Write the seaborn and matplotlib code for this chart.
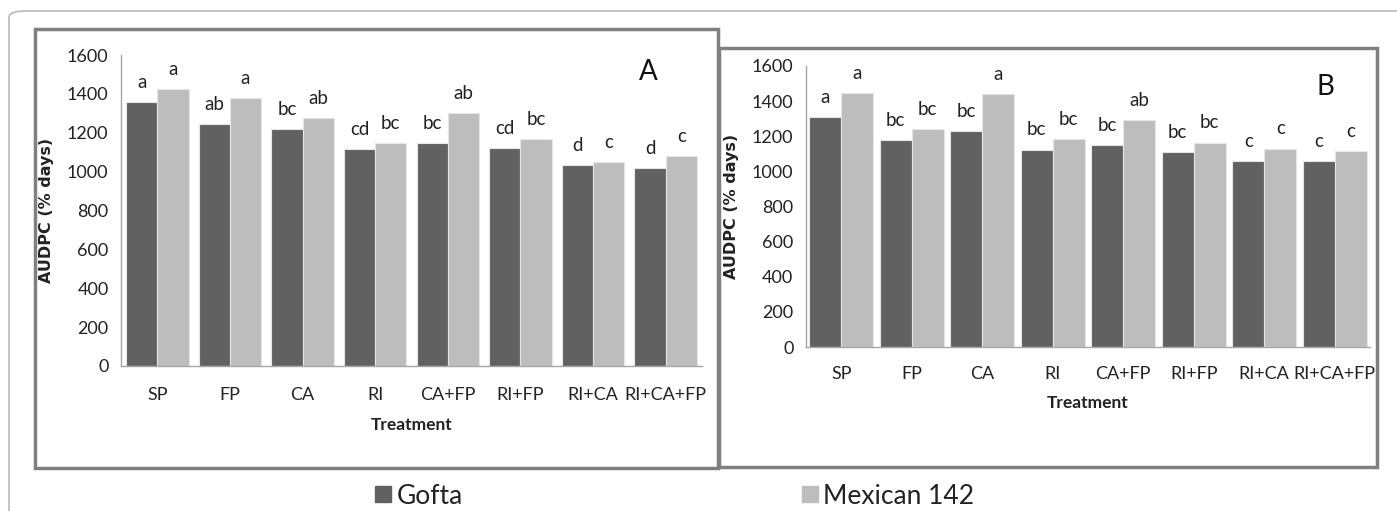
import pandas as pd
import matplotlib.pyplot as plt
import seaborn as sns
from matplotlib.patches import Rectangle, FancyBboxPatch
from matplotlib.lines import Line2D

sns.set_style("white")
plt.rcParams["font.family"] = ["Lato", "DejaVu Sans"]

# ---------------- data ----------------
treatments = ["SP", "FP", "CA", "RI", "CA+FP", "RI+FP", "RI+CA", "RI+CA+FP"]
varieties = ["Gofta", "Mexican 142"]

a_gofta = [1357, 1243, 1221, 1115, 1149, 1120, 1032, 1017]
a_mexican = [1425, 1377, 1274, 1149, 1302, 1166, 1048, 1081]
a_gofta_letters = ["a", "ab", "bc", "cd", "bc", "cd", "d", "d"]
a_mexican_letters = ["a", "a", "ab", "bc", "ab", "bc", "c", "c"]

b_gofta = [1309, 1177, 1230, 1124, 1152, 1110, 1057, 1057]
b_mexican = [1448, 1242, 1440, 1185, 1291, 1164, 1130, 1118]
b_gofta_letters = ["a", "bc", "bc", "bc", "bc", "bc", "c", "c"]
b_mexican_letters = ["a", "bc", "a", "bc", "ab", "bc", "c", "c"]

dark = "#616161"
light = "#bdbdbd"
axis_grey = "#a6a6a6"

W, H = 1397, 511
fig = plt.figure(figsize=(W / 100, H / 100), dpi=100)


def fx(px):
    return px / W


def fy(py):
    return 1 - py / H


def panel(left, right, top0, base, gofta, mexican, g_let, m_let, tag, width, tag_pos,
          label_y, xlabel_y):
    ax = fig.add_axes([fx(left), fy(base), fx(right - left), (base - top0) / H])
    df = pd.DataFrame({
        "Treatment": treatments * 2,
        "AUDPC": gofta + mexican,
        "Variety": [varieties[0]] * len(treatments) + [varieties[1]] * len(treatments),
    })
    sns.barplot(data=df, x="Treatment", y="AUDPC", hue="Variety",
                palette=[dark, light], width=width, ax=ax,
                edgecolor="#e6e6e6", linewidth=0.8, legend=False, errorbar=None)
    ax.set_xlim(-0.5, len(treatments) - 0.5)
    ax.set_ylim(0, 1600)
    ax.set_yticks(range(0, 1601, 200))
    ax.tick_params(axis="y", length=4, color=axis_grey, labelsize=13, pad=5,
                   labelcolor="#222222")
    ax.set_xticks([i - 0.5 for i in range(len(treatments) + 1)], minor=True)
    ax.tick_params(axis="x", which="minor", length=6, color=axis_grey)
    ax.tick_params(axis="x", which="major", length=0, labelsize=13, pad=label_y,
                   labelcolor="#222222")
    for s in ["top", "right"]:
        ax.spines[s].set_visible(False)
    for s in ["left", "bottom"]:
        ax.spines[s].set_color(axis_grey)
        ax.spines[s].set_linewidth(1)
    ax.set_xlabel("Treatment", fontsize=12.5, fontweight="bold", labelpad=xlabel_y,
                  color="#222222")
    ax.set_ylabel("AUDPC (% days)", fontsize=11.5, fontweight="bold",
                  family="DejaVu Sans", labelpad=9, color="#222222")

    for cont, lets in zip(ax.containers, [g_let, m_let]):
        for bar, t in zip(cont, lets):
            ax.annotate(t, (bar.get_x() + bar.get_width() / 2, bar.get_height()),
                        xytext=(0, 8), textcoords="offset points",
                        ha="center", va="bottom", fontsize=13.5, color="#222222")
    fig.text(fx(tag_pos[0]), fy(tag_pos[1]), tag, fontsize=20, ha="center",
             va="center", color="#111111")
    return ax


panel(121, 702, 55, 366, a_gofta, a_mexican, a_gofta_letters, a_mexican_letters,
      "A", 0.86, (648, 72), 15, 10)
panel(806, 1370, 66, 347, b_gofta, b_mexican, b_gofta_letters, b_mexican_letters,
      "B", 0.91, (1325, 87), 14, 9)

# outer frame with rounded corner
fig.patches.append(FancyBboxPatch((fx(9), fy(560)), fx(1500), (560 - 11) / H,
                                  boxstyle="round,pad=0,rounding_size=0.012",
                                  transform=fig.transFigure, fill=False,
                                  edgecolor="#b8b8b8", linewidth=1.2))
# panel boxes
fig.patches.append(Rectangle((fx(35), fy(468)), fx(718 - 35), (468 - 29) / H,
                             transform=fig.transFigure, fill=False,
                             edgecolor="#808080", linewidth=2.5))
fig.patches.append(Rectangle((fx(719), fy(467)), fx(1377 - 719), (467 - 48) / H,
                             transform=fig.transFigure, fill=False,
                             edgecolor="#808080", linewidth=2.5))

# legend
handles = [Line2D([], [], marker="s", linestyle="none", markersize=12,
                  markerfacecolor=c, markeredgecolor=c) for c in [dark, light]]
fig.legend(handles, varieties, loc="center", bbox_to_anchor=(fx(674), fy(496)),
           ncol=2, frameon=False, fontsize=19, handletextpad=0.15,
           columnspacing=12.8, handlelength=0.7, labelcolor="#222222")

plt.savefig("out.png", dpi=100)
